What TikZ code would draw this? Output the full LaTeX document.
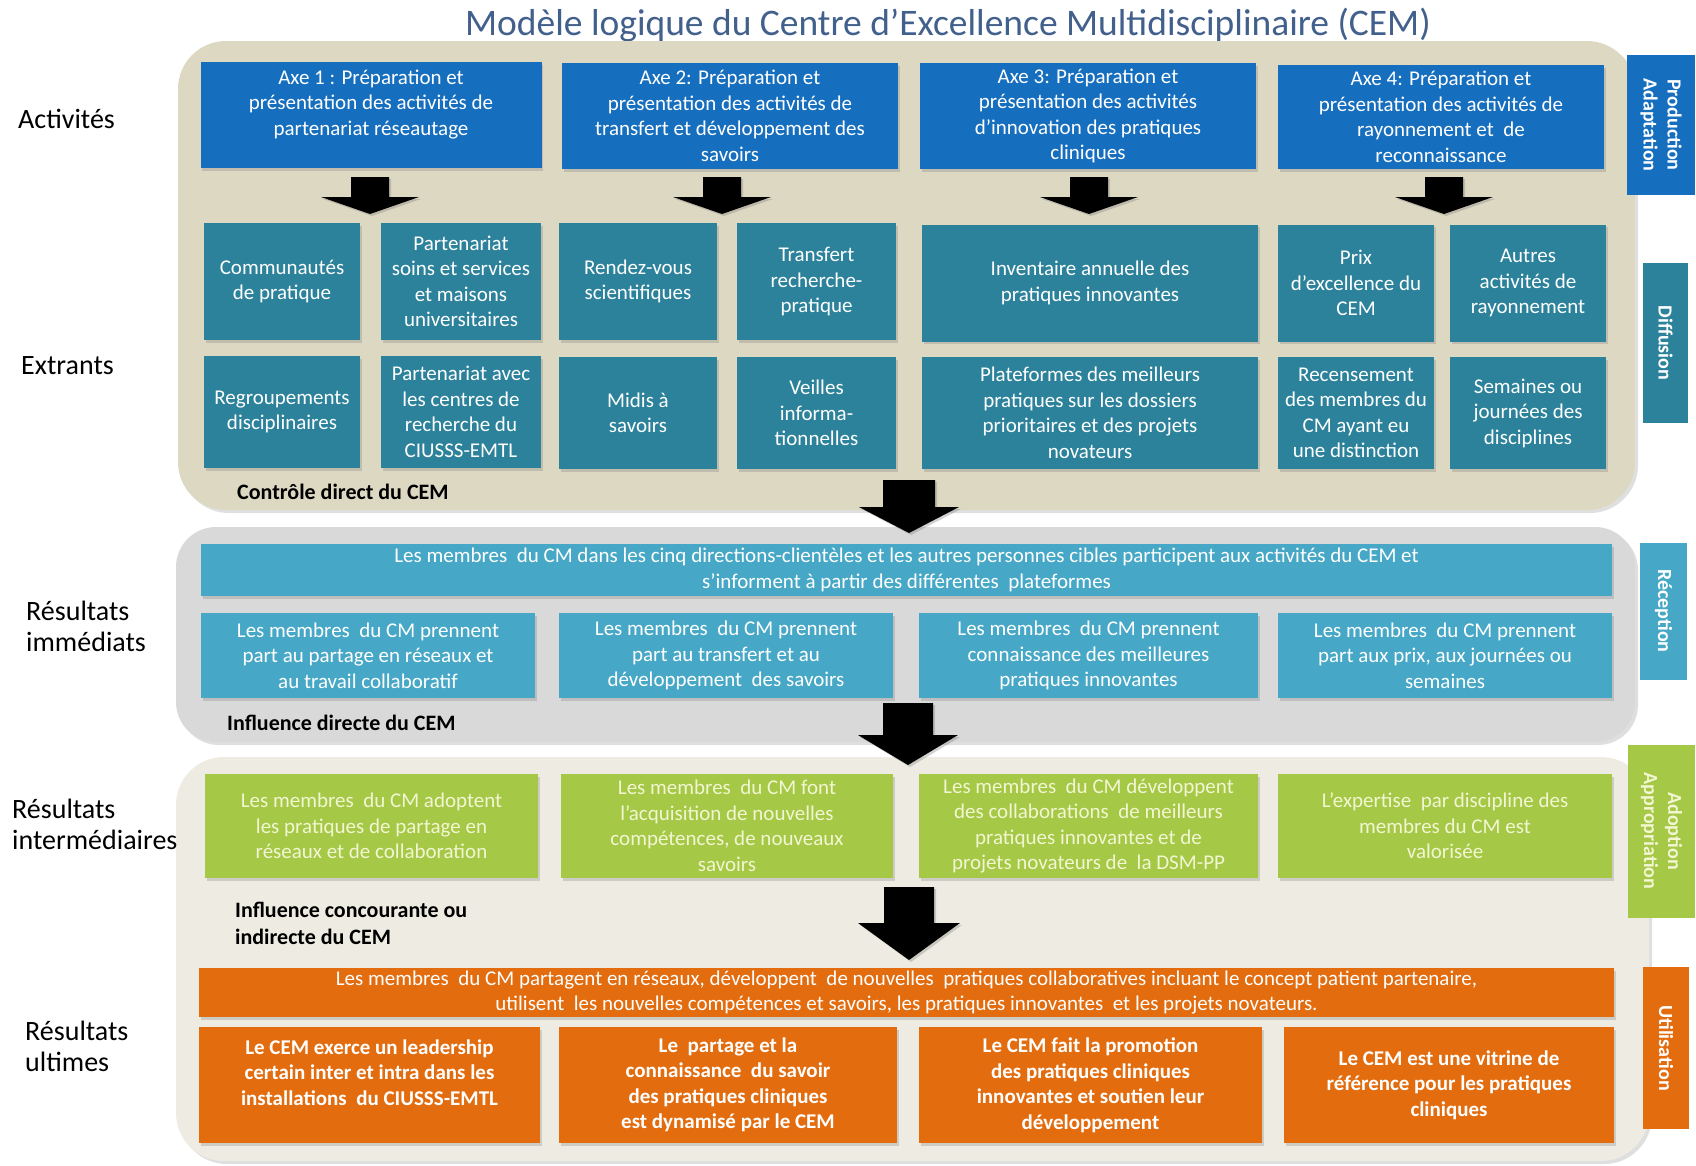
\documentclass[tikz,border=0pt]{standalone}
\usepackage{fontspec}
\setmainfont{Carlito}
\usetikzlibrary{shadows}

\definecolor{axebleu}{RGB}{22,110,190}
\definecolor{extrant}{RGB}{44,130,155}
\definecolor{reception}{RGB}{70,168,198}
\definecolor{adoption}{RGB}{165,200,70}
\definecolor{adoptiontxt}{RGB}{242,246,210}
\definecolor{utilisation}{RGB}{226,108,14}
\definecolor{panneaubeige}{RGB}{221,216,194}
\definecolor{panneaugris}{RGB}{217,217,217}
\definecolor{panneauclair}{RGB}{238,236,226}
\definecolor{titre}{RGB}{66,96,140}

\newcommand{\policeboite}{\fontsize{21}{25.5}\selectfont}
\newcommand{\policeetage}{\fontsize{28}{31}\selectfont}
\newcommand{\flechebas}[5]{\fill[black, drop shadow={opacity=.35, shadow xshift=2pt, shadow yshift=-2pt}] (#1) ++(-#2,0) -- ++(2*#2,0) -- ++(0,#4) -- ++(#3-#2,0) -- ++(-#3,#5) -- ++(-#3,-#5) -- ++(#3-#2,0) -- cycle;}

\tikzset{
	boite/.style={rectangle, inner xsep=2pt, inner ysep=1pt, align=center, text=white, font=\policeboite, drop shadow={opacity=.3, shadow xshift=1.5pt, shadow yshift=-2.5pt}},
	axe/.style={boite, fill=axebleu},
	extrant/.style={boite, fill=extrant},
	immediat/.style={boite, fill=reception},
	interm/.style={boite, fill=adoption, text=adoptiontxt},
	ultime/.style={boite, fill=utilisation, font=\policeboite\bfseries},
	panneau/.style={rounded corners=48pt, drop shadow={opacity=.25, shadow xshift=3pt, shadow yshift=-3pt}},
	etage/.style={font=\policeetage, align=left, anchor=west, inner sep=0pt},
	controle/.style={font=\fontsize{22}{27}\selectfont\bfseries, align=left, anchor=west, inner sep=0pt},
	cote/.style={rotate=-90, font=\fontsize{20}{24}\selectfont\bfseries, text=white, align=center, inner sep=0pt}
}

\begin{document}
\begin{tikzpicture}[x=1pt, y=-1pt]
	\useasboundingbox (0,0) rectangle (1696,1165);
	\fill[white] (0,0) rectangle (1696,1165);

	\node (titre) [font=\fontsize{37.5}{44}\selectfont, text=titre] at (948,25) {Modèle logique du Centre d’Excellence Multidisciplinaire (CEM)};

	\fill[panneaubeige, panneau] (178,41) rectangle (1635,510);
	\fill[panneaugris, panneau, rounded corners=40pt] (176,527) rectangle (1635,742);
	\fill[panneauclair, panneau] (176,757) rectangle (1649,1161);

	\node (activites) [etage] at (18,119) {Activités};
	\node (extrants) [etage] at (21,366) {Extrants};
	\node (immediats) [etage] at (26,626) {Résultats\\immédiats};
	\node (intermediaires) [etage] at (12,824) {Résultats\\intermédiaires};
	\node (ultimes) [etage] at (25,1046) {Résultats\\ultimes};

	\node (axe1) [axe, minimum width=341, minimum height=106] at (371,115) {Axe 1 : Préparation et\\présentation des activités de\\partenariat réseautage\\\mbox{}};
	\node (axe2) [axe, minimum width=336, minimum height=106] at (730,116) {Axe 2: Préparation et\\présentation des activités de\\transfert et développement des\\savoirs};
	\node (axe3) [axe, minimum width=336, minimum height=106] at (1088,116) {Axe 3: Préparation et\\présentation des activités\\d’innovation des pratiques\\cliniques};
	\node (axe4) [axe, minimum width=326, minimum height=104] at (1441,117) {Axe 4: Préparation et\\présentation des activités de\\rayonnement et\ \ de\\reconnaissance};

	\node (communautes) [extrant, minimum width=156, minimum height=117] at (282,281.5) {Communautés\\de pratique};
	\node (soins) [extrant, minimum width=160, minimum height=117] at (461,281.5) {Partenariat\\soins et services\\et maisons\\universitaires};
	\node (rendezvous) [extrant, minimum width=158, minimum height=117] at (638,281.5) {Rendez-vous\\scientifiques};
	\node (transfert) [extrant, minimum width=159, minimum height=117] at (816.5,281.5) {Transfert\\recherche-\\pratique};
	\node (inventaire) [extrant, minimum width=336, minimum height=117] at (1090,283) {Inventaire annuelle des\\pratiques innovantes};
	\node (prix) [extrant, minimum width=156, minimum height=117] at (1356,283) {Prix\\d’excellence du\\CEM};
	\node (autres) [extrant, minimum width=156, minimum height=117] at (1528,283) {Autres\\activités de\\rayonnement};

	\node (regroupements) [extrant, minimum width=156, minimum height=112] at (282,412) {Regroupements\\disciplinaires};
	\node (centres) [extrant, minimum width=160, minimum height=112] at (461,412) {Partenariat avec\\les centres de\\recherche du\\CIUSSS-EMTL};
	\node (midis) [extrant, minimum width=158, minimum height=112] at (638,413) {Midis à\\savoirs};
	\node (veilles) [extrant, minimum width=159, minimum height=112] at (816.5,413) {Veilles\\informa-\\tionnelles};
	\node (plateformes) [extrant, minimum width=336, minimum height=112] at (1090,413) {Plateformes des meilleurs\\pratiques sur les dossiers\\prioritaires et des projets\\novateurs};
	\node (recensement) [extrant, minimum width=156, minimum height=112] at (1356,413) {Recensement\\des membres du\\CM ayant eu\\une distinction};
	\node (semaines) [extrant, minimum width=156, minimum height=112] at (1528,413) {Semaines ou\\journées des\\disciplines};

	\node (controle) [controle] at (237,492) {Contrôle direct du CEM};

	\node (participent) [immediat, inner ysep=0pt, minimum width=1411, minimum height=52] at (906.5,570) {Les membres\ \ du CM dans les cinq directions-clientèles et les autres personnes cibles participent aux activités du CEM et\\s’informent à partir des différentes\ \ plateformes};
	\node (partage) [immediat, minimum width=334, minimum height=85] at (368,655.5) {Les membres\ \ du CM prennent\\part au partage en réseaux et\\au travail collaboratif};
	\node (savoirs) [immediat, minimum width=334, minimum height=85] at (726,655.5) {Les membres\ \ du CM prennent\\part au transfert et au\\développement\ \ des savoirs};
	\node (connaissance) [immediat, minimum width=339, minimum height=85] at (1088.5,655.5) {Les membres\ \ du CM prennent\\connaissance des meilleures\\pratiques innovantes};
	\node (journees) [immediat, minimum width=334, minimum height=85] at (1445,655.5) {Les membres\ \ du CM prennent\\part aux prix, aux journées ou\\semaines};

	\node (influence) [controle] at (227,723) {Influence directe du CEM};

	\node (adoptent) [interm, minimum width=333, minimum height=104] at (371.5,826) {Les membres\ \ du CM adoptent\\les pratiques de partage en\\réseaux et de collaboration};
	\node (acquisition) [interm, minimum width=332, minimum height=104] at (727,826) {Les membres\ \ du CM font\\l’acquisition de nouvelles\\compétences, de nouveaux\\savoirs};
	\node (collaborations) [interm, minimum width=339, minimum height=104] at (1088.5,826) {Les membres\ \ du CM développent\\des collaborations\ \ de meilleurs\\pratiques innovantes et de\\projets novateurs de\ \ la DSM-PP};
	\node (expertise) [interm, minimum width=334, minimum height=104] at (1445,826) {L’expertise\ \ par discipline des\\membres du CM est\\valorisée};

	\node (concourante) [controle] at (235,923) {Influence concourante ou\\indirecte du CEM};

	\node (partagent) [boite, fill=utilisation, inner ysep=0pt, minimum width=1415, minimum height=49] at (906.5,992.5) {Les membres\ \ du CM partagent en réseaux, développent\ \ de nouvelles\ \ pratiques collaboratives incluant le concept patient partenaire,\\utilisent\ \ les nouvelles compétences et savoirs, les pratiques innovantes\ \ et les projets novateurs.};
	\node (leadership) [ultime, minimum width=341, minimum height=116] at (369.5,1085) {Le CEM exerce un leadership\\certain inter et intra dans les\\installations\ \ du CIUSSS-EMTL\\\mbox{}};
	\node (dynamise) [ultime, minimum width=338, minimum height=116] at (728,1085) {Le\ \ partage et la\\connaissance\ \ du savoir\\des pratiques cliniques\\est dynamisé par le CEM};
	\node (promotion) [ultime, minimum width=343, minimum height=116] at (1090.5,1085) {Le CEM fait la promotion\\des pratiques cliniques\\innovantes et soutien leur\\développement};
	\node (vitrine) [ultime, minimum width=330, minimum height=116] at (1449,1085) {Le CEM est une vitrine de\\référence pour les pratiques\\cliniques};

	\node (production) [cote, fill=axebleu, minimum width=140, minimum height=68] at (1661,125) {Production\\Adaptation};
	\node (diffusion) [cote, fill=extrant, minimum width=160, minimum height=45] at (1665.5,343) {Diffusion};
	\node (reception) [cote, fill=reception, minimum width=137, minimum height=47] at (1663.5,611) {Réception};
	\node (adoption) [cote, fill=adoption, text=adoptiontxt, minimum width=173, minimum height=67] at (1661.5,831) {Adoption\\Appropriation};
	\node (utilisation) [cote, fill=utilisation, minimum width=162, minimum height=46] at (1666,1048) {Utilisation};

	\coordinate (f1) at (370,177);
	\coordinate (f2) at (722,177);
	\coordinate (f3) at (1089,177);
	\coordinate (f4) at (1444,177);
	\coordinate (g1) at (909,480);
	\coordinate (g2) at (908,703);
	\coordinate (g3) at (909,887);
	\flechebas{f1}{19}{49}{20}{17}
	\flechebas{f2}{19}{49}{20}{17}
	\flechebas{f3}{19}{49}{20}{17}
	\flechebas{f4}{19}{49}{20}{17}
	\flechebas{g1}{26}{50}{27}{26}
	\flechebas{g2}{25}{50}{32}{30}
	\flechebas{g3}{25}{51}{36}{37}
\end{tikzpicture}
\end{document}
